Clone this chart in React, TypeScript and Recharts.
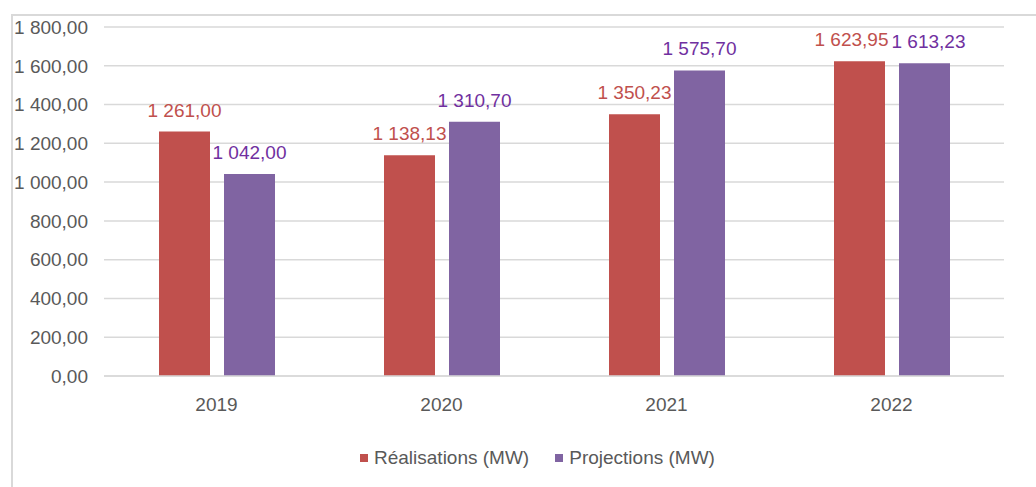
import React from "react";
import { BarChart, Bar, XAxis, YAxis, CartesianGrid, LabelList, Legend } from "recharts";

const years = ["2019", "2020", "2021", "2022"];
const realisations = [1261.0, 1138.13, 1350.23, 1623.95];
const projections = [1042.0, 1310.7, 1575.7, 1613.23];
const yTicks = [0, 200, 400, 600, 800, 1000, 1200, 1400, 1600, 1800];
const seriesNames = ["Réalisations (MW)", "Projections (MW)"];

const data = years.map((y, i) => ({ year: y, r: realisations[i], p: projections[i] }));

const FONT = "'Liberation Sans', Arial, sans-serif";
const RED = "#c0504d";
const PURPLE = "#8064a2";
const PURPLE_TEXT = "#7030a0";

function fmt(v: number): string {
  const fixed = Number(v).toFixed(2);
  const [intPart, dec] = fixed.split(".");
  const withSpaces = intPart.replace(/\B(?=(\d{3})+(?!\d))/g, "\u00a0");
  return `${withSpaces},${dec}`;
}

// Excel nudges the touching labels of the last category apart
function makeLabel(color: string, side: number) {
  return (props: any) => {
    const { x, y, width, value, index } = props;
    const crowded = index === years.length - 1;
    const dx = crowded ? (side < 0 ? -8 : 4) : 0;
    return (
      <text
        x={Number(x) + Number(width) / 2 + dx}
        y={Number(y) - 15}
        textAnchor="middle"
        fill={color}
        fontSize={19}
        fontFamily={FONT}
      >
        {fmt(value)}
      </text>
    );
  };
}

function LegendContent() {
  const items = [
    { name: seriesNames[0], color: RED },
    { name: seriesNames[1], color: PURPLE },
  ];
  return (
    <div style={{ display: "flex", flexDirection: "row", alignItems: "center", fontFamily: FONT, fontSize: 19, color: "#595959" }}>
      {items.map((it, i) => (
        <div key={it.name} style={{ display: "flex", alignItems: "center", marginRight: i === 0 ? 26 : 0 }}>
          <span style={{ display: "inline-block", width: 8, height: 8, background: it.color, marginRight: 6 }} />
          <span>{it.name}</span>
        </div>
      ))}
    </div>
  );
}

export default function App() {
  return (
    <div style={{ position: "absolute", left: 0, top: 0, width: 1036, height: 487, overflow: "hidden", background: "#ffffff" }}>
      <div style={{ position: "absolute", left: 11, top: 14, width: 1200, height: 700, border: "2px solid #d9d9d9" }} />
      <div style={{ position: "absolute", left: 0, top: 0 }}>
        <BarChart
          width={1036}
          height={487}
          data={data}
          margin={{ top: 27, right: 32, left: 8, bottom: 81 }}
          barSize={51}
          barGap={14}
        >
          <CartesianGrid horizontal vertical={false} stroke="#d9d9d9" strokeWidth={1.5} />
          <XAxis
            dataKey="year"
            height={30}
            tickLine={false}
            tickSize={0}
            tickMargin={22}
            axisLine={{ stroke: "#d9d9d9", strokeWidth: 1.5 }}
            tick={{ fill: "#595959", fontSize: 19, fontFamily: FONT }}
          />
          <YAxis
            width={96}
            domain={[0, 1800]}
            ticks={yTicks}
            interval={0}
            axisLine={false}
            tickLine={false}
            tickSize={0}
            tickMargin={16}
            tickFormatter={fmt}
            tick={{ fill: "#595959", fontSize: 19, fontFamily: FONT }}
          />
          <Legend
            layout="horizontal"
            verticalAlign="middle"
            align="center"
            wrapperStyle={{ top: 447, left: 360, width: "auto" }}
            content={() => <LegendContent />}
          />
          <Bar dataKey="r" name={seriesNames[0]} fill={RED} isAnimationActive={false}>
            <LabelList dataKey="r" content={makeLabel(RED, -1)} />
          </Bar>
          <Bar dataKey="p" name={seriesNames[1]} fill={PURPLE} isAnimationActive={false}>
            <LabelList dataKey="p" content={makeLabel(PURPLE_TEXT, 1)} />
          </Bar>
        </BarChart>
      </div>
    </div>
  );
}
